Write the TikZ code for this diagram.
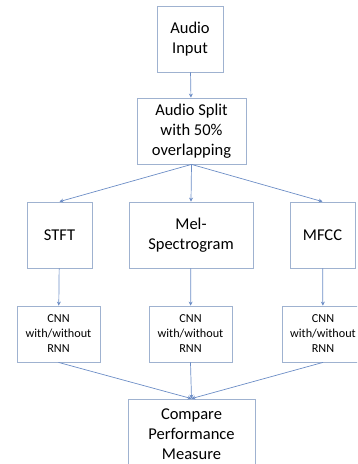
\documentclass[tikz,border=0pt]{standalone}
\usepackage{fontspec}
\setmainfont{Carlito}
\usetikzlibrary{arrows.meta}
\definecolor{boxline}{HTML}{9FB2D0}
\definecolor{arrowline}{HTML}{6C8DC6}
\begin{document}
\begin{tikzpicture}[
  x=1pt, y=1pt,
  every node/.style = {shape=rectangle, draw=boxline, line width=0.8pt, align=center, inner sep=0pt, font=\fontsize{16.5}{20}\selectfont},
  small/.style = {font=\fontsize{12.2}{15}\selectfont},
  flow/.style = {draw=arrowline, line width=0.7pt, -{Stealth[length=4pt,width=4pt]}}
]
  \useasboundingbox (0,0) rectangle (357,-464);
  \clip (0,0) rectangle (357,-464);
  \node[minimum width=66pt, minimum height=66pt] (input) at (190,-39) {Audio\\Input};
  \node[minimum width=109pt, minimum height=66pt] (split) at (191.5,-131) {Audio Split\\with 50\%\\overlapping};
  \node[minimum width=65pt, minimum height=66pt] (stft) at (59.5,-235) {STFT};
  \node[minimum width=124pt, minimum height=66pt] (mel) at (191,-235) {Mel-\\Spectrogram};
  \node[minimum width=65pt, minimum height=66pt] (mfcc) at (322.5,-235) {MFCC};
  \node[small, minimum width=83pt, minimum height=56pt] (cnnA) at (58.5,-334) {CNN\\with/without\\RNN};
  \node[small, minimum width=83pt, minimum height=56pt] (cnnB) at (190.5,-334) {CNN\\with/without\\RNN};
  \node[small, minimum width=82pt, minimum height=56pt] (cnnC) at (323,-334) {CNN\\with/without\\RNN};
  \node[minimum width=127pt, minimum height=70pt] (compare) at (191.5,-434) {Compare\\Performance\\Measure};
  \draw[flow] (input) -- (split);
  \draw[flow] (split.south) -- (stft.north);
  \draw[flow] (split.south) -- (mel.north);
  \draw[flow] (split.south) -- (mfcc.north);
  \draw[flow] (stft) -- (cnnA);
  \draw[flow] (mel) -- (cnnB);
  \draw[flow] (mfcc) -- (cnnC);
  \draw[flow] (cnnA.south) -- (compare.north);
  \draw[flow] (cnnB.south) -- (compare.north);
  \draw[flow] (cnnC.south) -- (compare.north);
\end{tikzpicture}
\end{document}
